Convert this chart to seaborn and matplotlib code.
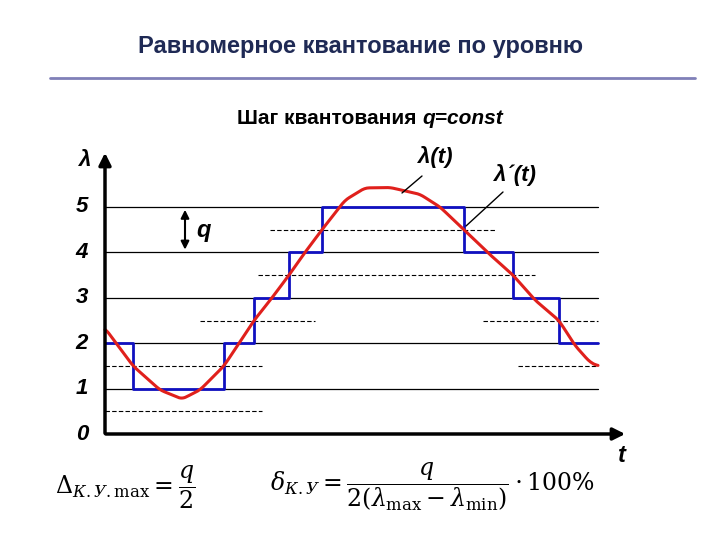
import matplotlib
matplotlib.use("Agg")
import matplotlib.pyplot as plt
import seaborn as sns
import numpy as np

sns.set_theme(style="white")
plt.rcParams['font.family'] = ['Liberation Sans', 'DejaVu Sans']
plt.rcParams['mathtext.fontset'] = 'dejavuserif'
plt.rcParams['text.color'] = 'black'

# data (t in arbitrary time units, levels in units of q)
curve_t = [105, 133, 160, 182, 200, 224, 254, 272, 289, 305, 322, 345, 365, 390, 420, 440, 464, 490, 513, 535, 559, 575, 590, 598]
curve_v = [2.33, 1.5, 0.97, 0.77, 0.97, 1.5, 2.5, 3.0, 3.5, 4.0, 4.5, 5.15, 5.42, 5.43, 5.28, 5.0, 4.5, 3.95, 3.5, 2.95, 2.5, 1.95, 1.58, 1.5]
step_edges = [105, 133, 224, 254, 289, 322, 464, 513, 559, 598]
step_levels = [2, 1, 2, 3, 4, 5, 4, 3, 2]
levels = [1, 2, 3, 4, 5]
level_labels = ["0", "1", "2", "3", "4", "5"]
dash_segments = [(0.5, 105, 262), (1.5, 105, 262), (1.5, 518, 598), (2.5, 200, 315),
                 (2.5, 483, 598), (3.5, 258, 535), (4.5, 270, 495)]

PX = 45.4
fig = plt.figure(figsize=(7.2, 5.4), dpi=100)
ax = fig.add_axes([0, 0, 1, 1])
ax.set_xlim(0, 720)
ax.set_ylim((434 - 540) / PX, 434 / PX)
ax.axis('off')

def py(p):  # pixel y -> level
    return (434 - p) / PX

for l in levels:
    ax.plot([105, 598], [l, l], color='black', lw=0.9)
for l, a, b in dash_segments:
    ax.plot([a, b], [l, l], color='black', lw=0.8, ls=(0, (4, 2)))

sx, sy = [], []
for i, l in enumerate(step_levels):
    sx += [step_edges[i], step_edges[i + 1]]
    sy += [l, l]
sns.lineplot(x=sx, y=sy, ax=ax, color='#1010C0', lw=2, sort=False, estimator=None)

tt = np.linspace(105, 598, 400)
vv = np.interp(tt, curve_t, curve_v)
k = np.ones(7) / 7
vv_s = np.convolve(np.pad(vv, 3, mode='edge'), k, mode='valid')
sns.lineplot(x=tt, y=vv_s, ax=ax, color='#E0201C', lw=2.2, sort=False, estimator=None)

ax.annotate('', xy=(105, py(150)), xytext=(105, py(436)),
            arrowprops=dict(arrowstyle='-|>', color='black', lw=2.5, mutation_scale=18))
ax.annotate('', xy=(628, 0), xytext=(103, 0),
            arrowprops=dict(arrowstyle='-|>', color='black', lw=2.5, mutation_scale=18))
ax.annotate('', xy=(185, 5), xytext=(185, 4),
            arrowprops=dict(arrowstyle='<|-|>', color='black', lw=1.5, mutation_scale=12))
ax.text(196, py(230), 'q', fontsize=17, fontweight='bold', style='italic', va='center')

for i, s in enumerate(level_labels):
    ax.text(82, i, s, fontsize=16, fontweight='bold', style='italic', va='center', ha='center')
ax.text(85, py(160), 'λ', fontsize=16, fontweight='bold', style='italic', va='center', ha='center')
ax.text(622, py(455), 't', fontsize=17, fontweight='bold', style='italic', va='center', ha='center')

ax.text(435, py(157), 'λ(t)', fontsize=16, fontweight='bold', style='italic', va='center', ha='center')
ax.plot([422, 402], [py(176), py(193)], color='black', lw=1)
ax.text(515, py(175), 'λ´(t)', fontsize=16, fontweight='bold', style='italic', va='center', ha='center')
ax.plot([503, 466], [py(192), py(226)], color='black', lw=1)

ax.text(360, py(47), 'Равномерное квантование по уровню', fontsize=17, fontweight='bold',
        color='#1F2A55', ha='center', va='center')
ax.plot([50, 695], [py(78), py(78)], color='#8080B8', lw=2)
ax.text(422, py(118), 'Шаг квантования ', fontsize=15, fontweight='bold', ha='right', va='center')
ax.text(422, py(118), 'q=const', fontsize=15, fontweight='bold', style='italic', ha='left', va='center')

ax.text(55, py(487), r'$\Delta_{К.У.\max} = \dfrac{q}{2}$', fontsize=17, va='center', ha='left')
ax.text(270, py(487), r'$\delta_{К.У} = \dfrac{q}{2(\lambda_{\max}-\lambda_{\min})}\cdot 100\%$',
        fontsize=17, va='center', ha='left')

fig.savefig('out.png', dpi=100, facecolor='white')
